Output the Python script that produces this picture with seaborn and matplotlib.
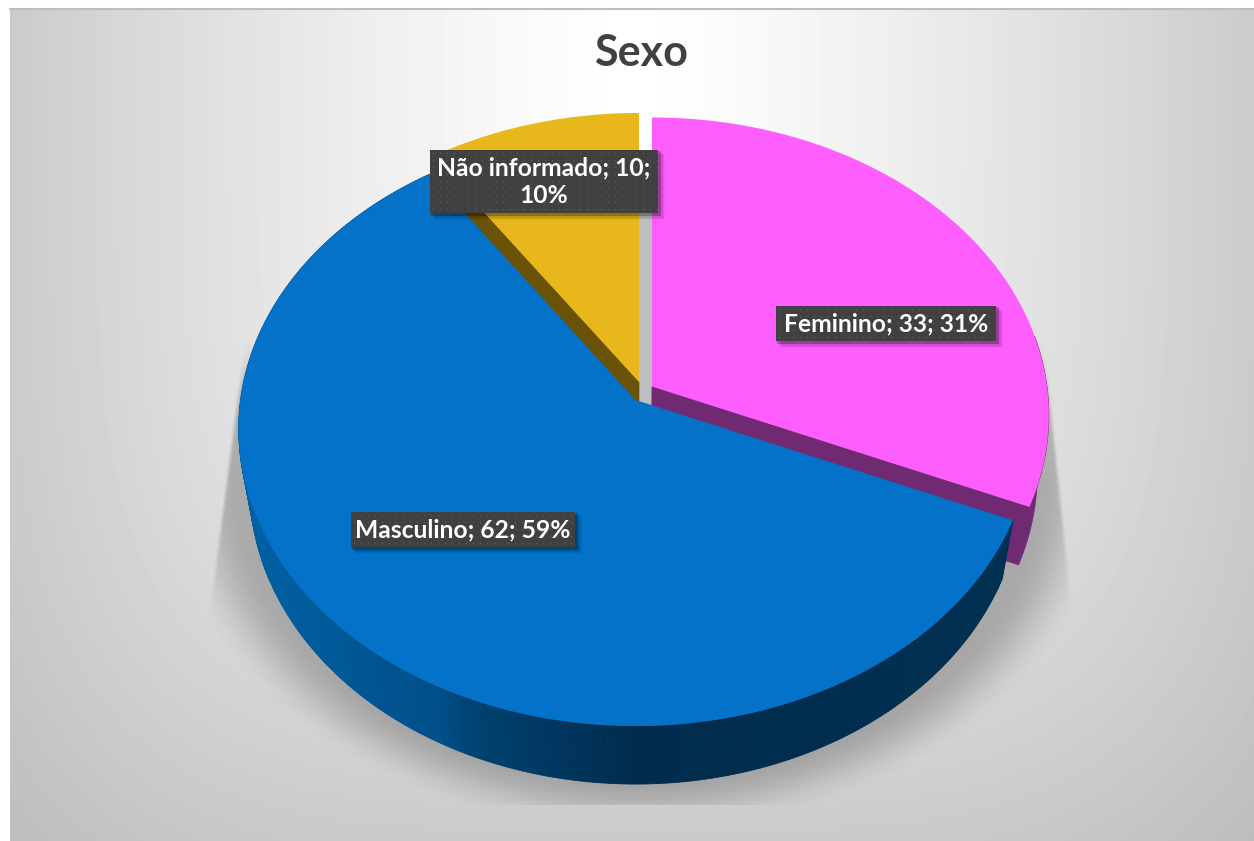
import numpy as np
import matplotlib
matplotlib.use("Agg")
import matplotlib.pyplot as plt
from matplotlib.patches import Rectangle
from matplotlib import font_manager as fm
import seaborn as sns

# ---- data
categories = ["Feminino", "Masculino", "Não informado"]
values = [33, 62, 10]
title = "Sexo"

sns.set_theme(style="white")
plt.rcParams['font.family'] = ['Lato', 'DejaVu Sans']
palette = sns.color_palette(["#FF5EFF", "#0472C8", "#E8B71C"])
wall_colors = ["#6F2A72", "#004A80", "#6A5206"]

W, H = 1254, 841
fig = plt.figure(figsize=(W / 100, H / 100), dpi=100, facecolor="white")
ax = fig.add_axes([0, 0, 1, 1])
ax.set_xlim(0, W)
ax.set_ylim(H, 0)
ax.axis("off")

# ---- backdrop
yy, xx = np.mgrid[8:H, 10:W]
xterm = 52 * (np.abs(xx - 632) / 622.0) ** 1.3
yterm = 52 * (np.clip(yy - 100, 0, None) / 730.0) ** 1.3
grey = 255 - (xterm ** 3 + yterm ** 3) ** (1 / 3.0)
ax.imshow(grey, cmap="gray", vmin=0, vmax=255, extent=(10, W, H, 8), aspect="auto", zorder=0)
ax.plot([10, W], [8.5, 8.5], color="#BDBDBD", lw=1.5, zorder=1)

# ---- soft shadow behind the pie
r = np.sqrt(((xx - 638) / 452.0) ** 2 + ((yy - 478) / 338.0) ** 2)
def smooth(a, b, t):
    s = np.clip((t - a) / (b - a), 0, 1)
    return s * s * (3 - 2 * s)
alpha = 0.34 * (1 - smooth(0.88, 1.05, r))
left_edge = 238 - (yy - 370) * 26 / 200.0
right_edge = 1045 + (yy - 330) * 25 / 240.0
alpha *= smooth(0, 6, xx - left_edge) * smooth(0, 6, right_edge - xx)
alpha *= smooth(330, 420, yy) * (yy < 805)
shadow = np.zeros(alpha.shape + (4,))
shadow[..., :3] = 0.28
shadow[..., 3] = alpha
ax.imshow(shadow, extent=(10, W, H, 8), aspect="auto", zorder=1, interpolation="bilinear")
ax.set_xlim(0, W)
ax.set_ylim(H, 0)

# ---- perspective pie geometry
A, B, K = 395.0, 294.8, 0.0958
DEPTH, SHRINK, CX = 58.0, 0.972, 638.0
total = sum(values)
angles = np.cumsum([0] + values) / total * 360.0
apexes = [(652, 386.5), (635.5, 400), (639, 382)]

def rim(apex, t0, t1, n=240):
    t = np.radians(np.linspace(t0, t1, n))
    u, v = np.sin(t), np.cos(t)
    d = 1 + K * v
    return apex[0] + A * u / d, apex[1] - B * v / d

def lower(x, y):
    return CX + (x - CX) * SHRINK, y + DEPTH

def face(apex, t0, t1):
    x, y = rim(apex, t0, t1)
    return np.r_[apex[0], x], np.r_[apex[1], y]

def extrude(x, y, color, z):
    xl, yl = lower(x, y)
    ax.fill(np.r_[x, xl[::-1]], np.r_[y, yl[::-1]], color=color, lw=0.5, zorder=z)

# gap between the detached slices
ax.add_patch(Rectangle((637, 185), 17, 217, color="#BFBFC2", lw=0, zorder=2))

# pink slice
t0, t1 = angles[0], angles[1]
ex, ey = rim(apexes[0], t1, t1, 2)
extrude(np.r_[apexes[0][0], ex[0]], np.r_[apexes[0][1], ey[0]], wall_colors[0], 3)
x, y = rim(apexes[0], 80, t1)
extrude(x, y, wall_colors[0], 3)
fx, fy = face(apexes[0], t0, t1)
ax.fill(fx, fy, color=palette[0], lw=0, zorder=4)

# yellow slice
t0, t1 = angles[2], angles[3]
ex, ey = rim(apexes[2], t0, t0, 2)
extrude(np.r_[apexes[2][0], ex[0]], np.r_[apexes[2][1], ey[0]], wall_colors[2], 3)
fx, fy = face(apexes[2], t0, t1)
ax.fill(fx, fy, color=palette[2], lw=0, zorder=4)

# blue slice with shaded wall
t0, t1 = angles[1], angles[2]
x, y = rim(apexes[1], t0, t1, 420)
ramp_x = [230, 440, 470, 640, 1020]
ramp_g = [0x62, 0x4E, 0x42, 0x2B, 0x30]
ramp_b = [0xA6, 0x88, 0x72, 0x4C, 0x52]
for i in range(len(x) - 1):
    mid = 0.5 * (x[i] + x[i + 1])
    col = (0, np.interp(mid, ramp_x, ramp_g) / 255, np.interp(mid, ramp_x, ramp_b) / 255)
    qx, qy = x[i:i + 2], y[i:i + 2]
    xl, yl = lower(qx, qy)
    ax.fill(np.r_[qx, xl[::-1]], np.r_[qy, yl[::-1]], color=col, lw=0.6, zorder=5)
fx, fy = face(apexes[1], t0, t1)
ax.fill(fx, fy, color=palette[1], lw=0, zorder=6)

# ---- labels
bold = fm.FontProperties(family=["Lato", "DejaVu Sans"], weight="bold")
pct = [round(v / total * 100) for v in values]
labels = [f"{c}; {v}; {p}%" for c, v, p in zip(categories, values, pct)]
labels[2] = f"{categories[2]}; {values[2]};\n{pct[2]}%"
boxes = [(776, 306, 220, 35), (351, 512, 224, 35), (430, 150, 228, 63)]
for text, (bx, by, bw, bh) in zip(labels, boxes):
    for off, a in [(10, .04), (8, .06), (6, .08), (4, .12), (2.5, .15)]:
        ax.add_patch(Rectangle((bx + off * .6 - 1, by + off * .6 - 1), bw + 2, bh + 2, color="black", alpha=a, lw=0, zorder=7))
    ax.add_patch(Rectangle((bx, by), bw, bh, facecolor="#404040", lw=0, zorder=8))
    gx, gy = np.meshgrid(np.arange(bx + 3, bx + bw, 7), np.arange(by + 3, by + bh, 7))
    ax.scatter(gx.ravel(), gy.ravel(), s=1.2, color="#5A5A5A", lw=0, zorder=8.5)
    ax.text(bx + bw / 2, by + bh / 2 + 0.5, text, ha="center", va="center", color="white",
            fontproperties=bold, fontsize=17.7, linespacing=1.22, zorder=9)

ax.text(641, 53, title, ha="center", va="center", color="#404040",
        fontproperties=bold, fontsize=31, zorder=9)

fig.savefig("out.png", dpi=100)
